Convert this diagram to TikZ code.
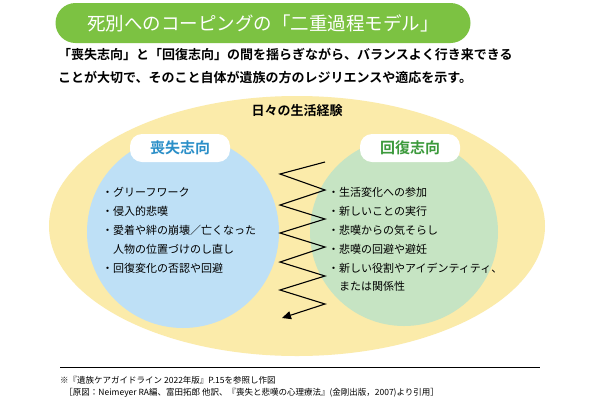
\documentclass[tikz,border=0pt]{standalone}
\usepackage{fontspec}
\setmainfont{Noto Sans CJK JP}
\newfontfamily\jpb{Noto Sans CJK JP Bold}
\usetikzlibrary{arrows.meta}
\definecolor{pgreen}{HTML}{7CC242}
\definecolor{pyel}{HTML}{FBEBAA}
\definecolor{pblue}{HTML}{BEE0F6}
\definecolor{plgreen}{HTML}{C6E4C3}
\definecolor{tblue}{HTML}{2B8FC8}
\definecolor{tgreen}{HTML}{3C9A3C}
\begin{document}
\begin{tikzpicture}[x=1pt,y=-1pt,
 item/.style={anchor=west,inner sep=0,font=\fontsize{11}{12}\selectfont},
 tag/.style={fill=white,rounded corners=12pt,minimum width=100pt,minimum height=28pt,font=\jpb\fontsize{15}{17}\selectfont}]
\useasboundingbox (0,0) rectangle (600,400);
\fill[white] (0,0) rectangle (600,400);
\node[fill=pgreen,rounded corners=20pt,minimum width=415pt,minimum height=40pt,text=white,font=\fontsize{18.5}{22}\selectfont] (title) at (263,23) {死別へのコーピングの「二重過程モデル」};
\node[anchor=west,inner sep=0,align=left,font=\jpb\fontsize{13}{23}\selectfont] (sub) at (58,66) {「喪失志向」と「回復志向」の間を揺らぎながら、バランスよく行き来できる\\ことが大切で、そのこと自体が遺族の方のレジリエンスや適応を示す。};
\fill[pyel] (297,226) ellipse [x radius=248pt,y radius=130pt];
\node[font=\jpb\fontsize{13}{14}\selectfont] (life) at (297,111) {日々の生活経験};
\fill[pblue] (183,232) circle (96pt);
\fill[plgreen] (404,232) circle (94pt);
\node[tag,text=tblue] (loss) at (180,148) {喪失志向};
\node[tag,text=tgreen] (rest) at (410,148) {回復志向};
\foreach \t [count=\i] in {・グリーフワーク,・侵入的悲嘆,・愛着や絆の崩壊／亡くなった,\hspace*{1em}人物の位置づけのし直し,・回復変化の否認や回避}
  \node[item] (l\i) at (102,{173+19*\i}) {\t};
\node[item] (r1) at (328,192) {・生活変化への参加};
\node[item] (r2) at (328,211) {・新しいことの実行};
\node[item] (r3) at (328,230) {・悲嘆からの気そらし};
\node[item] (r4) at (328,249) {・悲嘆の回避や避妊};
\node[item] (r5) at (328,268) {・新しい役割やアイデンティティ、};
\node[item] (r6) at (328,286) {\hspace*{1em}または関係性};
\coordinate (z0) at (325,162);
\coordinate (zend) at (282,318);
\draw[line width=1.1pt,-{Triangle[length=9pt,width=8pt]}] (z0) -- (280,174) -- (325,190) -- (280,205) -- (325,219) -- (280,233) -- (325,247) -- (280,262) -- (325,276) -- (280,290) -- (325,304) -- (zend);
\coordinate (fa) at (60,367); \coordinate (fb) at (540,367);
\draw[line width=0.5pt] (fa) -- (fb);
\node[anchor=west,inner sep=0,align=left,font=\fontsize{8.5}{12}\selectfont] (note) at (60,387) {※『遺族ケアガイドライン 2022年版』P.15を参照し作図\\\hspace*{0.5em}［原図：Neimeyer RA編、富田拓郎 他訳、『喪失と悲嘆の心理療法』(金剛出版，2007)より引用］};
\end{tikzpicture}
\end{document}
